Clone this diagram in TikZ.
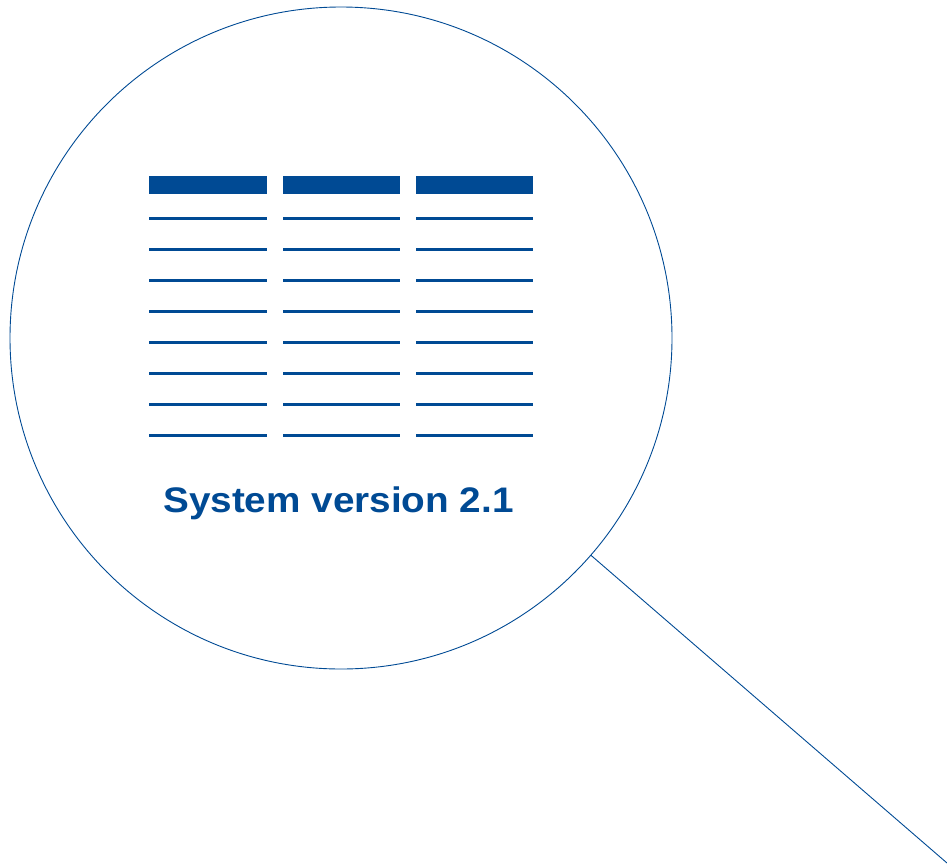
\documentclass[tikz,border=0pt]{standalone}
\usepackage{fontspec}
\setmainfont{Liberation Sans}
\definecolor{lensblue}{HTML}{004A94}
\begin{document}
\begin{tikzpicture}[x=1pt,y=-1pt,
  headbar/.style={fill=lensblue,draw=none},
  rowline/.style={draw=lensblue,line width=2.5pt},
  lensring/.style={circle,draw=lensblue,line width=0.9pt,minimum size=662pt,inner sep=0pt,outer sep=0pt},
  handleline/.style={draw=lensblue,line width=0.9pt}]
\useasboundingbox (0,0) rectangle (947,865);
\node[lensring] (lens) at (341,338) {};
\coordinate (handle) at (947,863);
\draw[handleline] (lens.-41.9) -- (handle);
\foreach \xa/\xb [count=\c] in {149/266.5,283/400,416/533}{
  \fill[headbar] (\xa,175.5) rectangle (\xb,193.5);
  \foreach \k in {0,...,7}{
    \draw[rowline] (\xa,218.5+31*\k) -- (\xb,218.5+31*\k);
  }
}
\node[anchor=base,text=lensblue,inner sep=0pt] (label) at (338.5,512)
  {\scalebox{1.09}[1]{\fontsize{35.5}{40}\selectfont\bfseries System version 2.1}};
\end{tikzpicture}
\end{document}
